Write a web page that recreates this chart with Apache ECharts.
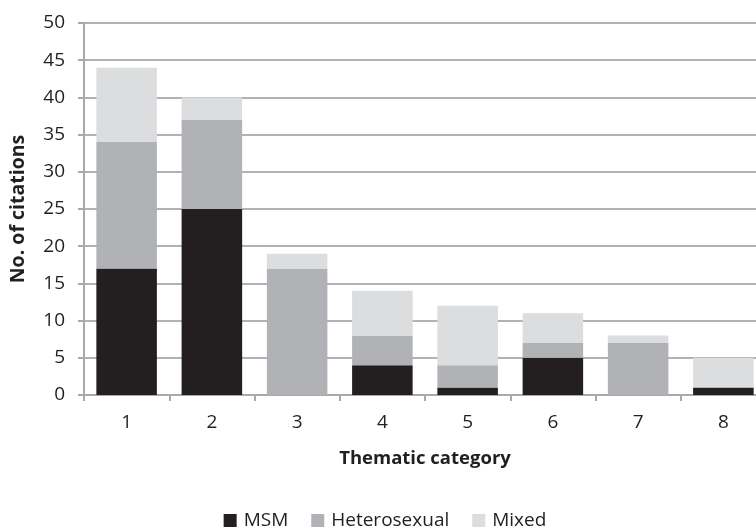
<!DOCTYPE html>
<html>
<head>
<meta charset="utf-8">
<script src="https://cdn.jsdelivr.net/npm/echarts@6/dist/echarts.min.js"></script>
<style>html,body{margin:0;padding:0;background:#fff;overflow:hidden}#c{width:770px;height:528px}</style>
</head>
<body>
<div id="c"></div>
<script>
const categories = ['1','2','3','4','5','6','7','8'];
const msm = [17, 25, 0, 4, 1, 5, 0, 1];
const heterosexual = [17, 12, 17, 4, 3, 2, 7, 0];
const mixed = [10, 3, 2, 6, 8, 4, 1, 4];

const font = '"Open Sans", "Liberation Sans", sans-serif';
const chart = echarts.init(document.getElementById('c'), null, {renderer: 'canvas'});
const mk = (name, data, color) => ({
  name, type: 'bar', stack: 'total', data, barCategoryGap: '29%',
  itemStyle: {color}, emphasis: {disabled: true}
});
chart.setOption({
  animation: false,
  backgroundColor: '#fff',
  textStyle: {fontFamily: font},
  grid: {left: 82, right: 4, top: 23, bottom: 133, containLabel: false},
  legend: {
    top: 506, left: 'center', itemWidth: 13, itemHeight: 13, itemGap: 23,
    icon: 'rect',
    textStyle: {fontFamily: font, fontSize: 19, color: '#231f20', padding: [0,0,0,2]},
    data: ['MSM', 'Heterosexual', 'Mixed']
  },
  xAxis: {
    type: 'category', data: categories,
    name: 'Thematic category', nameLocation: 'middle', nameGap: 54,
    nameTextStyle: {fontFamily: font, fontSize: 18.5, fontWeight: 'bold', color: '#231f20'},
    axisLine: {lineStyle: {color: '#a7a9ac', width: 2}},
    axisTick: {show: true, length: 6, lineStyle: {color: '#a7a9ac', width: 2}},
    axisLabel: {fontFamily: font, fontSize: 19, color: '#231f20', margin: 18}
  },
  yAxis: {
    type: 'value', min: 0, max: 50, interval: 5,
    name: 'No. of citations', nameLocation: 'middle', nameGap: 56, nameRotate: 90,
    nameTextStyle: {fontFamily: font, fontSize: 19.5, fontWeight: 'bold', color: '#231f20'},
    axisLine: {show: true, lineStyle: {color: '#a7a9ac', width: 2}},
    axisTick: {show: true, length: 6, lineStyle: {color: '#a7a9ac', width: 2}},
    axisLabel: {fontFamily: font, fontSize: 19, color: '#231f20', margin: 19},
    splitLine: {show: true, lineStyle: {color: '#b1b2b5', width: 2}}
  },
  series: [
    mk('MSM', msm, '#231f20'),
    mk('Heterosexual', heterosexual, '#b1b2b5'),
    mk('Mixed', mixed, '#dcdddf')
  ]
});
</script>
</body>
</html>
